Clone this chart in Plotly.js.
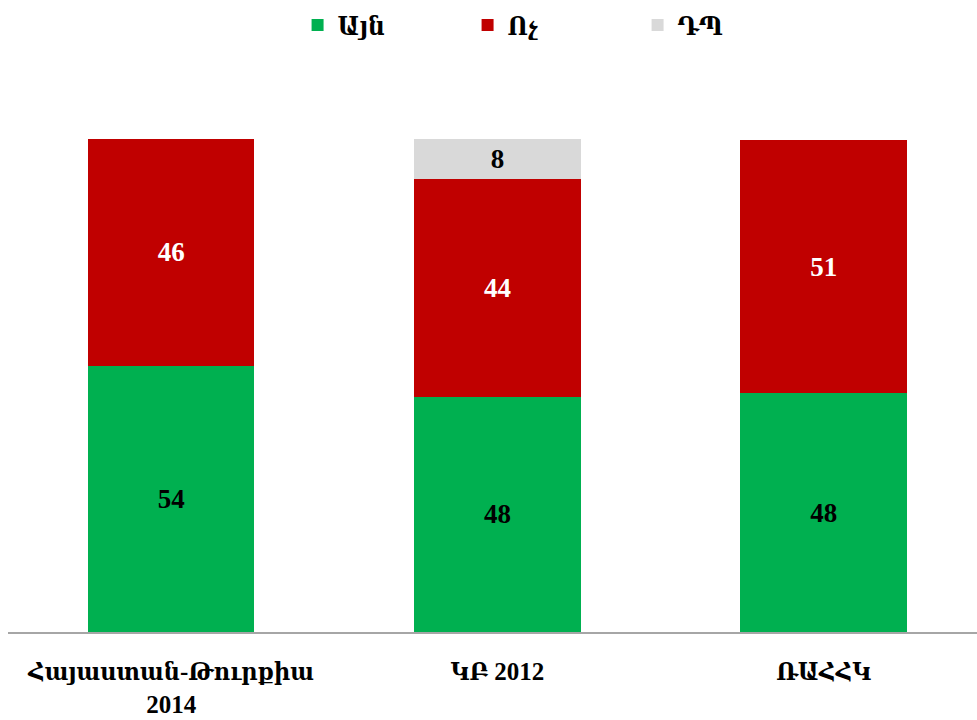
<!DOCTYPE html>
<html>
<head>
<meta charset="utf-8">
<script src="https://cdn.plot.ly/plotly-3.0.1.min.js"></script>
<style>body{margin:0;background:#fff}#chart{width:977px;height:720px}</style>
</head>
<body>
<div id="chart"></div>
<script>
const categories = ['Հայաստան-Թուրքիա<br>2014', 'ԿԲ 2012', 'ՌԱՀՀԿ'];
const yesValues = [54, 47.7, 48.4];
const noValues = [46, 44.2, 51.4];
const dkValues = [null, 8.1, null];

const fontFamily = '"Liberation Serif", "DejaVu Serif Condensed", "DejaVu Serif", serif';

function barTrace(name, values, color, textColor) {
  return {
    type: 'bar',
    name: name,
    x: categories,
    y: values,
    marker: {color: color},
    texttemplate: '%{y:.0f}',
    textposition: 'inside',
    insidetextanchor: 'middle',
    textangle: 0,
    textfont: {family: fontFamily, size: 27, weight: 'bold', color: textColor},
    hoverinfo: 'skip'
  };
}

const traces = [
  barTrace('Այն', yesValues, '#00B050', '#000000'),
  barTrace('Ոչ', noValues, '#C00000', '#FFFFFF'),
  barTrace('ԴՊ', dkValues, '#D9D9D9', '#000000')
];

Plotly.newPlot('chart', traces, {
  width: 977,
  height: 720,
  barmode: 'stack',
  bargap: 0.49,
  margin: {l: 8, r: 0, t: 139, b: 88},
  paper_bgcolor: '#ffffff',
  plot_bgcolor: '#ffffff',
  font: {family: fontFamily, size: 26, color: '#000000'},
  showlegend: true,
  legend: {
    orientation: 'h',
    traceorder: 'normal',
    x: 0.562, xanchor: 'center',
    y: 1.231, yanchor: 'middle',
    entrywidth: 125,
    font: {family: fontFamily, size: 26, weight: 'bold', color: '#000000'}
  },
  xaxis: {
    range: [-0.5, 2.47],
    showline: true,
    linecolor: '#A6A6A6',
    linewidth: 2,
    ticks: '',
    showgrid: false,
    zeroline: false,
    tickfont: {family: fontFamily, size: 25, weight: 'bold', color: '#000000'},
    ticklabelstandoff: 16,
    fixedrange: true
  },
  yaxis: {
    range: [0, 100],
    visible: false,
    showgrid: false,
    zeroline: false,
    fixedrange: true
  }
}, {displayModeBar: false, staticPlot: true});
</script>
</body>
</html>
